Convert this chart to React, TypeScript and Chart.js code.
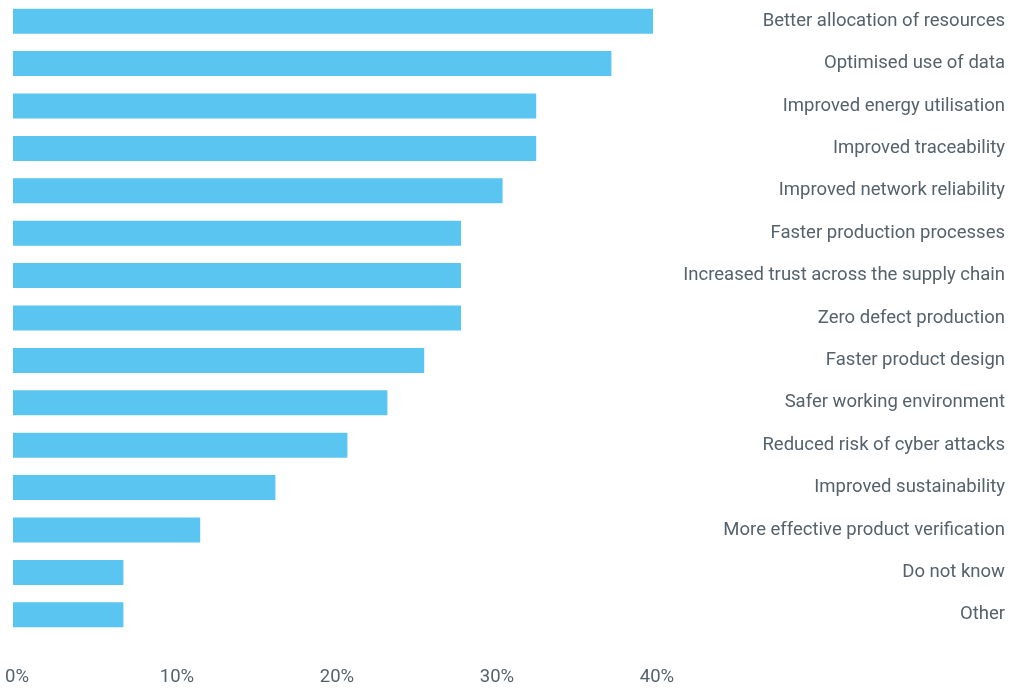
import React, { useEffect, useRef } from "react";
import { Chart, registerables } from "chart.js";

Chart.register(...registerables);

const categories: string[] = [
  "Better allocation of resources",
  "Optimised use of data",
  "Improved energy utilisation",
  "Improved traceability",
  "Improved network reliability",
  "Faster production processes",
  "Increased trust across the supply chain",
  "Zero defect production",
  "Faster product design",
  "Safer working environment",
  "Reduced risk of cyber attacks",
  "Improved sustainability",
  "More effective product verification",
  "Do not know",
  "Other",
];

const values: number[] = [40.0, 37.4, 32.7, 32.7, 30.6, 28.0, 28.0, 28.0, 25.7, 23.4, 20.9, 16.4, 11.7, 6.9, 6.9];

const xTicks: number[] = [0, 10, 20, 30, 40];

const BAR_COLOR = "#5BC5F2";
const TEXT_COLOR = "#56626b";
const FONT = "Roboto";

const zeroPad = (axis: any) => {
  axis.paddingLeft = 0;
  axis.paddingRight = 0;
  axis.paddingTop = 0;
  axis.paddingBottom = 0;
};

export default function App() {
  const ref = useRef<HTMLCanvasElement | null>(null);

  useEffect(() => {
    if (!ref.current) return;
    const chart = new Chart(ref.current, {
      type: "bar",
      data: {
        labels: categories,
        datasets: [
          {
            data: values,
            backgroundColor: BAR_COLOR,
            borderWidth: 0,
            barPercentage: 0.59,
            categoryPercentage: 1,
          },
        ],
      },
      options: {
        indexAxis: "y",
        animation: false,
        responsive: false,
        maintainAspectRatio: false,
        layout: { padding: { top: 0, left: 13, right: 9, bottom: 1 } },
        plugins: {
          legend: { display: false },
          tooltip: { enabled: false },
        },
        scales: {
          x: {
            type: "linear",
            min: 0,
            max: 40,
            afterBuildTicks: (axis: any) => {
              axis.ticks = xTicks.map((v) => ({ value: v }));
            },
            afterFit: (axis: any) => {
              axis.height = 52;
              zeroPad(axis);
            },
            grid: { display: false, drawTicks: false },
            border: { display: false },
            ticks: {
              padding: 30,
              labelOffset: 4,
              color: TEXT_COLOR,
              font: { family: FONT, size: 18.5 },
              callback: (v: any) => `${v}%`,
            },
          },
          y: {
            position: "right",
            grid: { display: false, drawTicks: false },
            border: { display: false },
            afterFit: (axis: any) => {
              axis.width = 352;
              zeroPad(axis);
            },
            ticks: {
              crossAlign: "far",
              padding: 0,
              color: TEXT_COLOR,
              font: { family: FONT, size: 18.5 },
              autoSkip: false,
            },
          },
        },
      },
    });
    return () => chart.destroy();
  }, []);

  return (
    <div style={{ position: "fixed", left: 0, top: 0, width: 1014, height: 689, background: "#fff" }}>
      <canvas ref={ref} width={1014} height={689} style={{ width: 1014, height: 689, display: "block" }} />
    </div>
  );
}
